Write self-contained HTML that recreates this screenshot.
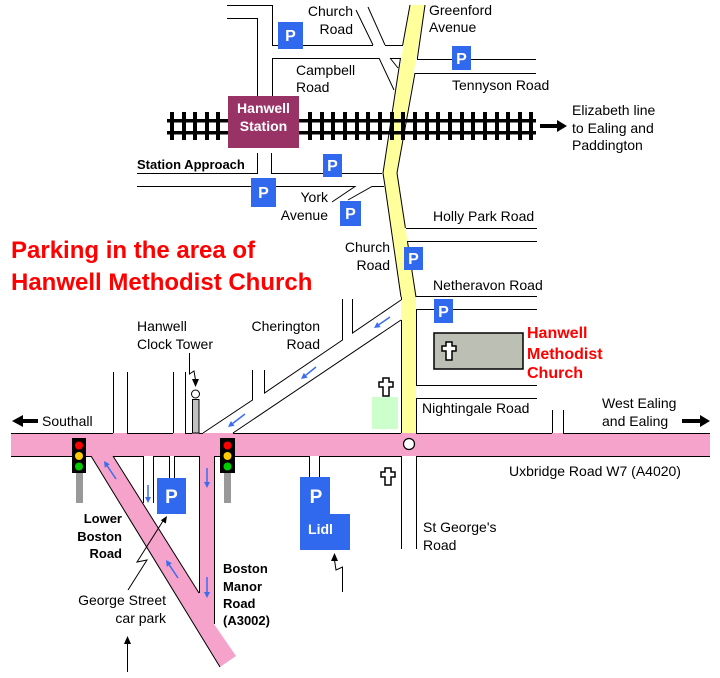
<!DOCTYPE html>
<html><head><meta charset="utf-8"><style>
html,body{margin:0;padding:0;background:#fff;}
svg{display:block;}
text{font-family:"Liberation Sans",Arial,sans-serif;font-size:14px;fill:#000;}
.b{font-weight:bold;font-size:13px;}
.r{fill:#ff0000;font-weight:bold;}
.w{fill:#fff;font-weight:bold;}
.e{text-anchor:end;}
</style></head><body>
<svg width="720" height="678" viewBox="0 0 720 678" xmlns="http://www.w3.org/2000/svg">
<rect width="720" height="678" fill="#fff"/>

<!-- pink roads -->
<rect x="11" y="433" width="699" height="23" fill="#f5a3cb"/>
<polygon points="91,456 113,456 199,593 199,456 214,456 214,624 236,656 220,667" fill="#f5a3cb"/>

<!-- yellow road -->
<polygon points="410,5 425,5 397,173 416,297 416,433 401,433 401,297 383,173" fill="#ffff9c"/>

<!-- black road edges -->
<g stroke="#000" stroke-width="1" fill="none">
<!-- main road top -->
<path d="M11 433.5H113 M127 433.5H173 M185 433.5H192 M199 433.5H203 M233 433.5H401 M416 433.5H552 M563 433.5H710"/>
<!-- main road bottom -->
<path d="M11 456.5H91 M113 456.5H143 M153 456.5H169 M174 456.5H199 M214 456.5H309 M319 456.5H401 M416 456.5H710"/>
<!-- diagonal + boston manor -->
<path d="M91 456L220 667 M113 456L199 593 M199.5 456V593 M214.5 456V624"/>
<!-- side roads above main -->
<path d="M113.5 372V433 M127.5 372V433 M173.5 372V433 M185.5 372V433"/>
<!-- cherington -->
<path d="M203 433L252.5 400V370 M264.5 370V393L342.5 340V299 M352.5 299V333L401 300 M233 433L401 320"/>
<!-- side roads below main -->
<path d="M143.5 456V503 M153.5 456V503 M169.5 456V478 M174.5 456V478 M309.5 456V477 M319.5 456V477 M401.5 456V549 M416.5 456V549"/>
<path d="M552.5 410V433 M563.5 410V433"/>
<!-- yellow edges -->
<path d="M410 5L402.7 45 M400.5 58L383 173 M425 5L417.3 59 M415 73L397 173"/>
<path d="M383 173L385 186 M385 186L401 297 M401.5 297V300 M401.5 320V433"/>
<path d="M397 173L405.4 228 M407.4 241L416 297 M416.5 309V385 M416.5 398V433"/>
<!-- right side horizontals -->
<path d="M417 59.5H536 M415 73.5H536 M406 228.5H537 M408 241.5H537 M416 296.5H537 M416 309.5H537 M416 385.5H537 M416 398.5H537"/>
<!-- top left -->
<path d="M227 5.5H272.5V45.5H373 M385 45.5H403 M227 18.5H257.5V97 M272.5 97V58.5H379 M390 58.5H401"/>
<path d="M356 10L373 45 M368 7L385 45 M379 58L394 90 M390 58L398 68"/>
<!-- below station -->
<path d="M257.5 153V173.5H137 M271.5 153V173.5H382 M137 186.5H355L332 202 M348 200L372 186.5H384"/>
</g>

<!-- railway -->
<g fill="#000">
<rect x="167" y="119" width="369" height="3.5"/>
<rect x="167" y="131" width="369" height="3.5"/>
<rect x="170" y="112" width="4" height="28"/><rect x="182" y="112" width="4" height="28"/><rect x="193" y="112" width="4" height="28"/><rect x="205" y="112" width="4" height="28"/><rect x="216" y="112" width="4" height="28"/>
<rect x="308" y="112" width="4" height="28"/><rect x="320" y="112" width="4" height="28"/><rect x="331" y="112" width="4" height="28"/><rect x="343" y="112" width="4" height="28"/><rect x="355" y="112" width="4" height="28"/><rect x="366" y="112" width="4" height="28"/><rect x="378" y="112" width="4" height="28"/><rect x="390" y="112" width="4" height="28"/><rect x="401" y="112" width="4" height="28"/><rect x="413" y="112" width="4" height="28"/><rect x="425" y="112" width="4" height="28"/><rect x="436" y="112" width="4" height="28"/><rect x="448" y="112" width="4" height="28"/><rect x="460" y="112" width="4" height="28"/><rect x="471" y="112" width="4" height="28"/><rect x="483" y="112" width="4" height="28"/><rect x="495" y="112" width="4" height="28"/><rect x="506" y="112" width="4" height="28"/><rect x="518" y="112" width="4" height="28"/><rect x="529" y="112" width="4" height="28"/>
</g>

<!-- station -->
<rect x="228" y="96" width="71" height="52" fill="#993366"/>
<text class="w" x="263.5" y="113" text-anchor="middle">Hanwell</text>
<text class="w" x="263.5" y="131" text-anchor="middle">Station</text>

<!-- P boxes -->
<g fill="#3068ee">
<rect x="278" y="22" width="25" height="27"/>
<rect x="323" y="154" width="19" height="23"/>
<rect x="251" y="178" width="25" height="29"/>
<rect x="340" y="201" width="21" height="25"/>
<rect x="452" y="46" width="19" height="24"/>
<rect x="404" y="247" width="19" height="23"/>
<rect x="434" y="299" width="19" height="24"/>
<rect x="157" y="478" width="29" height="36"/>
<polygon points="300,477 330,477 330,514 350,514 350,550 300,550"/>
</g>
<g style="font-weight:bold;font-size:16px;fill:#fff;text-anchor:middle">
<text x="290.5" y="41" style="fill:#fff;font-size:16px">P</text>
<text x="332.5" y="171" style="fill:#fff;font-size:16px">P</text>
<text x="263.5" y="198" style="fill:#fff;font-size:16px">P</text>
<text x="350.5" y="219" style="fill:#fff;font-size:16px">P</text>
<text x="461.5" y="64" style="fill:#fff;font-size:16px">P</text>
<text x="413.5" y="264" style="fill:#fff;font-size:16px">P</text>
<text x="443.5" y="317" style="fill:#fff;font-size:16px">P</text>
<text x="171.5" y="503" style="fill:#fff;font-size:19px">P</text>
<text x="316" y="503" style="fill:#fff;font-size:19px">P</text>
</g>
<text class="w" x="320.5" y="534" text-anchor="middle">Lidl</text>

<!-- church -->
<rect x="434" y="333" width="89" height="36" fill="#bcc0b4" stroke="#000" stroke-width="1.5"/>
<rect x="372" y="397" width="26" height="32" fill="#ccffcc"/>
<g fill="#fff" stroke="#000" stroke-width="1.5">
<polygon transform="translate(449,351)" points="-3,-9 3,-9 3,-5 7,-5 7,0 3,0 3,9 -3,9 -3,0 -7,0 -7,-5 -3,-5"/>
<polygon transform="translate(386,387)" points="-3,-9 3,-9 3,-5 7,-5 7,0 3,0 3,9 -3,9 -3,0 -7,0 -7,-5 -3,-5"/>
<polygon transform="translate(388,476)" points="-3,-8 3,-8 3,-4 7,-4 7,1 3,1 3,9 -3,9 -3,1 -7,1 -7,-4 -3,-4"/>
</g>
<circle cx="409" cy="444" r="5.5" fill="#fff" stroke="#000" stroke-width="1.2"/>

<!-- clock tower -->
<rect x="192.5" y="399.5" width="6.5" height="33.5" fill="#c0c0c0" stroke="#000" stroke-width="1"/>
<circle cx="195.5" cy="394" r="4" fill="#fff" stroke="#000" stroke-width="1"/>

<!-- traffic lights -->
<rect x="76" y="473" width="7" height="30" fill="#999"/>
<rect x="72" y="438" width="14" height="35" fill="#000"/>
<circle cx="79" cy="445.5" r="4" fill="#ff0000"/><circle cx="79" cy="456" r="4" fill="#ffcc00"/><circle cx="79" cy="466.5" r="4" fill="#00cc00"/>
<rect x="224" y="473" width="7" height="30" fill="#999"/>
<rect x="220" y="438" width="15" height="35" fill="#000"/>
<circle cx="227.5" cy="445.5" r="4" fill="#ff0000"/><circle cx="227.5" cy="456" r="4" fill="#ffcc00"/><circle cx="227.5" cy="466.5" r="4" fill="#00cc00"/>

<!-- blue arrows -->
<g stroke="#3a6cf0" stroke-width="1.5" fill="none">
<path d="M245 414L232.8 423.4 M316 367L305.7 375.3 M390 317L378.9 324.6 M116 479L107.3 466 M178 578L169.3 565 M207 468V482 M207 577V592 M148 485V497"/>
</g>
<g fill="#3a6cf0">
<polygon points="228,427 234.6,425.7 230.9,421"/>
<polygon points="301,379 307.6,377.6 303.8,372.9"/>
<polygon points="374,328 380.6,327.1 377.2,322.1"/>
<polygon points="104,461 109.8,464.3 104.8,467.7"/>
<polygon points="166,560 171.8,563.3 166.8,566.7"/>
<polygon points="207,488 204,482 210,482"/>
<polygon points="207,598 204,592 210,592"/>
<polygon points="148,503 145,497 151,497"/>
</g>

<!-- black arrows / pointers -->
<g fill="#000">
<rect x="22" y="419" width="16" height="4"/><polygon points="12,421 23,415 23,427"/>
<rect x="540" y="124" width="18" height="4"/><polygon points="567,126 557,120 557,132"/>
<rect x="682" y="419" width="19" height="4"/><polygon points="710,421 700,415 700,427"/>
<polygon points="195.5,387 192,379 199,379"/>
<polygon points="334.5,553 331,561 338,561"/>
<polygon points="167,516 165.8,523.5 160.8,520.3"/>
<polygon points="127.5,636 124,644 131,644"/>
</g>
<g stroke="#000" stroke-width="1" fill="none">
<path d="M189.5 353V374L194 371L195.5 380"/>
<path d="M342.5 592V567L336 570L334.5 560"/>
<path d="M128 590L147 560L137 562L163 521"/>
<path d="M127.5 672V643"/>
</g>

<!-- labels -->
<text class="e" x="353" y="16">Church</text>
<text class="e" x="353" y="34">Road</text>
<text x="429" y="15">Greenford</text>
<text x="429" y="32">Avenue</text>
<text x="296" y="75">Campbell</text>
<text x="296" y="92">Road</text>
<text x="452" y="90">Tennyson Road</text>
<text x="572" y="115">Elizabeth line</text>
<text x="572" y="133">to Ealing and</text>
<text x="572" y="150">Paddington</text>
<text class="b" x="137" y="169">Station Approach</text>
<text class="e" x="328" y="202">York</text>
<text class="e" x="328" y="220">Avenue</text>
<text x="433" y="221">Holly Park Road</text>
<text class="e" x="390" y="252">Church</text>
<text class="e" x="390" y="270">Road</text>
<text x="433" y="290">Netheravon Road</text>
<text class="r" x="527" y="338" style="font-size:16px">Hanwell</text>
<text class="r" x="527" y="359" style="font-size:16px">Methodist</text>
<text class="r" x="527" y="378" style="font-size:16px">Church</text>
<text x="422" y="413">Nightingale Road</text>
<text x="602" y="408">West Ealing</text>
<text x="602" y="426">and Ealing</text>
<text class="e" x="320" y="331">Cherington</text>
<text class="e" x="320" y="349">Road</text>
<text x="137" y="331">Hanwell</text>
<text x="137" y="349">Clock Tower</text>
<text x="42" y="426">Southall</text>
<text class="r" x="11" y="258" style="font-size:24px">Parking in the area of</text>
<text class="r" x="11" y="290" style="font-size:24px">Hanwell Methodist Church</text>
<text x="509" y="476">Uxbridge Road W7 (A4020)</text>
<text x="423" y="532">St George's</text>
<text x="423" y="550">Road</text>
<text class="b e" x="122" y="523">Lower</text>
<text class="b e" x="122" y="541">Boston</text>
<text class="b e" x="122" y="558">Road</text>
<text class="e" x="166" y="605">George Street</text>
<text class="e" x="166" y="623">car park</text>
<text class="b" x="223" y="573">Boston</text>
<text class="b" x="223" y="591">Manor</text>
<text class="b" x="223" y="608">Road</text>
<text class="b" x="223" y="625">(A3002)</text>
</svg>
</body></html>
